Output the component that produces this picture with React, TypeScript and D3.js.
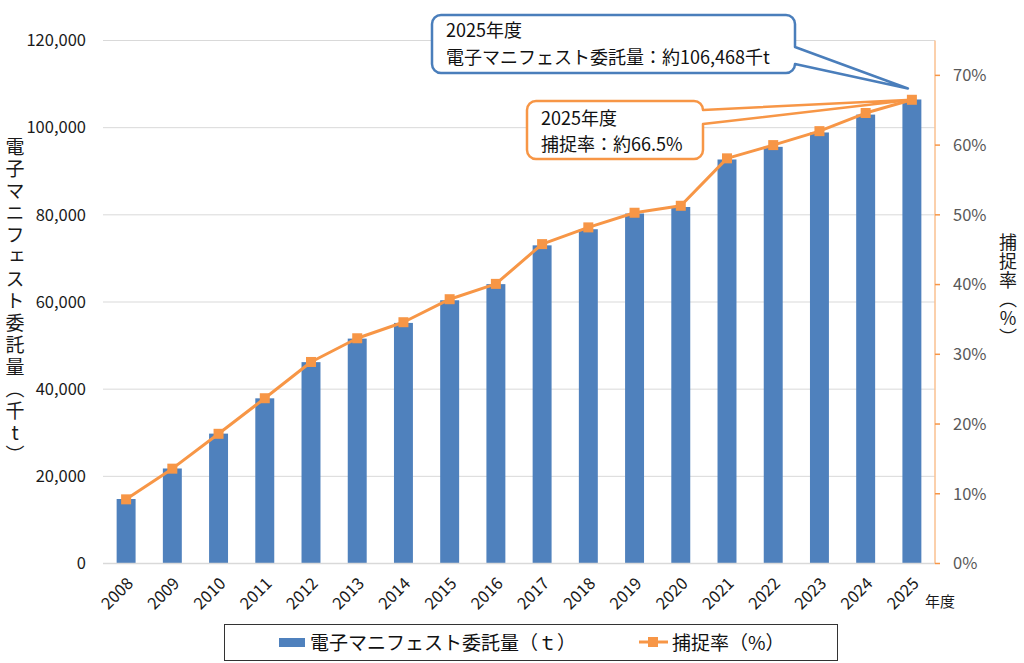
import React, { useEffect, useRef } from 'react';
import * as d3 from 'd3';

const years = ['2008', '2009', '2010', '2011', '2012', '2013', '2014', '2015', '2016',
  '2017', '2018', '2019', '2020', '2021', '2022', '2023', '2024', '2025'];
// 電子マニフェスト委託量（千t）
const volume = [14800, 21800, 29800, 37900, 46200, 51600, 55200, 60400, 64100,
  73000, 76700, 80300, 81800, 92700, 95600, 98900, 103000, 106468];
// 捕捉率（%）
const rate = [9.2, 13.6, 18.6, 23.7, 28.9, 32.3, 34.6, 37.9, 40.1,
  45.8, 48.2, 50.3, 51.3, 58.1, 60.0, 62.0, 64.6, 66.5];
const leftTicks = [0, 20000, 40000, 60000, 80000, 100000, 120000];
const rightTicks = [0, 10, 20, 30, 40, 50, 60, 70];

const blueNote = ['2025年度', '電子マニフェスト委託量：約106,468千t'];
const orangeNote = ['2025年度', '捕捉率：約66.5%'];
const legendLabels = ['電子マニフェスト委託量（ｔ）', '捕捉率（%）'];

const FONT = '"Noto Sans CJK JP", "Noto Sans", sans-serif';
const BLUE = '#4f81bd';
const ORANGE = '#f79646';

function calloutPath(x0: number, y0: number, x1: number, y1: number, r: number,
  pa: number, pb: number, tx: number, ty: number) {
  return `M${x0 + r},${y0} H${x1 - r} A${r},${r} 0 0 1 ${x1},${y0 + r} V${pa} L${tx},${ty} L${x1},${pb} `
    + `V${y1 - r} A${r},${r} 0 0 1 ${x1 - r},${y1} H${x0 + r} A${r},${r} 0 0 1 ${x0},${y1 - r} `
    + `V${y0 + r} A${r},${r} 0 0 1 ${x0 + r},${y0} Z`;
}

const ComboChart: React.FC = () => {
  const ref = useRef<SVGSVGElement>(null);

  useEffect(() => {
    if (!ref.current) return;
    const svg = d3.select(ref.current);
    svg.selectAll('*').remove();

    const left = 103, right = 935, top = 40.5, bottom = 563.5;

    const x = d3.scaleBand<string>().domain(years).range([left, right])
      .paddingInner(0.59).paddingOuter(0.295);
    const yL = d3.scaleLinear().domain([0, 120000]).range([bottom, top]);
    const yR = d3.scaleLinear().domain([0, 75]).range([bottom, top]);
    const cx = (y: string) => (x(y) as number) + x.bandwidth() / 2;

    // gridlines
    svg.append('g').selectAll('line').data(leftTicks.slice(1)).enter().append('line')
      .attr('x1', left).attr('x2', right)
      .attr('y1', d => yL(d)).attr('y2', d => yL(d))
      .attr('stroke', '#d9d9d9').attr('stroke-width', 1);

    // left tick labels
    svg.append('g').selectAll('text').data(leftTicks).enter().append('text')
      .attr('x', 86).attr('y', d => yL(d)).attr('dy', '0.35em')
      .attr('text-anchor', 'end').attr('font-size', 16.5).attr('font-family', FONT)
      .attr('fill', '#1a1a1a').text(d => d3.format(',')(d));

    // bars
    svg.append('g').selectAll('rect').data(volume).enter().append('rect')
      .attr('x', (_, i) => x(years[i]) as number).attr('width', x.bandwidth())
      .attr('y', d => yL(d)).attr('height', d => bottom - yL(d))
      .attr('fill', BLUE);

    // bottom axis line
    svg.append('line').attr('x1', left).attr('x2', right).attr('y1', bottom).attr('y2', bottom)
      .attr('stroke', '#d9d9d9').attr('stroke-width', 1.5);

    // right axis
    const ra = svg.append('g');
    ra.append('line').attr('x1', right).attr('x2', right).attr('y1', top).attr('y2', bottom)
      .attr('stroke', '#fac090').attr('stroke-width', 1.5);
    ra.selectAll('line.t').data(rightTicks).enter().append('line').attr('class', 't')
      .attr('x1', right).attr('x2', right + 5).attr('y1', d => yR(d)).attr('y2', d => yR(d))
      .attr('stroke', ORANGE).attr('stroke-width', 1.5);
    ra.selectAll('text').data(rightTicks).enter().append('text')
      .attr('x', 953).attr('y', d => yR(d)).attr('dy', '0.35em')
      .attr('font-size', 16.5).attr('font-family', FONT).attr('fill', '#595959')
      .text(d => `${d}%`);

    // x labels
    svg.append('g').selectAll('text').data(years).enter().append('text')
      .attr('transform', d => `translate(${cx(d) + 4},${bottom + 17}) rotate(-45)`)
      .attr('dy', '0.35em').attr('text-anchor', 'end')
      .attr('font-size', 16.5).attr('font-family', FONT).attr('fill', '#1a1a1a')
      .text(d => d);
    svg.append('text').attr('x', 925).attr('y', 602).attr('dy', '0.35em')
      .attr('font-size', 15).attr('font-family', FONT).attr('fill', '#1a1a1a').text('年度');

    // line
    const line = d3.line<number>().x((_, i) => cx(years[i])).y(d => yR(d));
    svg.append('path').datum(rate).attr('d', line).attr('fill', 'none')
      .attr('stroke', ORANGE).attr('stroke-width', 3).attr('stroke-linejoin', 'round');
    svg.append('g').selectAll('rect').data(rate).enter().append('rect')
      .attr('x', (_, i) => cx(years[i]) - 5).attr('y', d => yR(d) - 5)
      .attr('width', 10).attr('height', 10).attr('fill', ORANGE);

    // axis titles
    svg.append('text').attr('x', 15).attr('y', 302).attr('text-anchor', 'middle')
      .style('writing-mode', 'vertical-rl').style('text-orientation', 'upright')
      .attr('letter-spacing', 3).attr('font-size', 19).attr('font-family', FONT)
      .attr('fill', '#1a1a1a').text('電子マニフェスト委託量（千t）');
    svg.append('text').attr('x', 1008).attr('y', 290).attr('text-anchor', 'middle')
      .style('writing-mode', 'vertical-rl').style('text-orientation', 'upright')
      .attr('letter-spacing', 1).attr('font-size', 18).attr('font-family', FONT)
      .attr('fill', '#1a1a1a').text('捕捉率（%）');

    // callouts
    const last = years.length - 1;
    const tipX = cx(years[last]);
    svg.append('path')
      .attr('d', calloutPath(432, 15, 795, 73, 9, 47, 64, tipX - 4, yL(volume[last]) - 11))
      .attr('fill', '#fff').attr('stroke', '#4a7ebb').attr('stroke-width', 2.5)
      .attr('stroke-linejoin', 'round');
    blueNote.forEach((t, i) => {
      svg.append('text').attr('x', 446).attr('y', 37 + i * 27)
        .attr('font-size', 18).attr('font-family', FONT).attr('fill', '#111').text(t);
    });
    svg.append('path')
      .attr('d', calloutPath(527, 101, 703, 159, 9, 110, 124, tipX, yR(rate[last])))
      .attr('fill', '#fff').attr('stroke', ORANGE).attr('stroke-width', 2.5)
      .attr('stroke-linejoin', 'round');
    orangeNote.forEach((t, i) => {
      svg.append('text').attr('x', 541).attr('y', 125 + i * 26)
        .attr('font-size', 18).attr('font-family', FONT).attr('fill', '#111').text(t);
    });

    // legend
    const lg = svg.append('g');
    lg.append('rect').attr('x', 224.5).attr('y', 624.5).attr('width', 613).attr('height', 36)
      .attr('fill', '#fff').attr('stroke', '#333').attr('stroke-width', 1);
    lg.append('rect').attr('x', 279).attr('y', 638).attr('width', 26).attr('height', 9).attr('fill', BLUE);
    lg.append('text').attr('x', 310).attr('y', 643).attr('dy', '0.35em')
      .attr('font-size', 19).attr('font-family', FONT).attr('fill', '#111').text(legendLabels[0]);
    lg.append('line').attr('x1', 639).attr('x2', 668).attr('y1', 642).attr('y2', 642)
      .attr('stroke', ORANGE).attr('stroke-width', 3);
    lg.append('rect').attr('x', 648).attr('y', 637).attr('width', 10).attr('height', 10).attr('fill', ORANGE);
    lg.append('text').attr('x', 672).attr('y', 643).attr('dy', '0.35em')
      .attr('font-size', 19).attr('font-family', FONT).attr('fill', '#111').text(legendLabels[1]);
  }, []);

  return <svg ref={ref} width={1024} height={663}
    style={{ position: 'absolute', left: 0, top: 0, display: 'block' }} />;
};

export default function App() {
  return <ComboChart />;
}
